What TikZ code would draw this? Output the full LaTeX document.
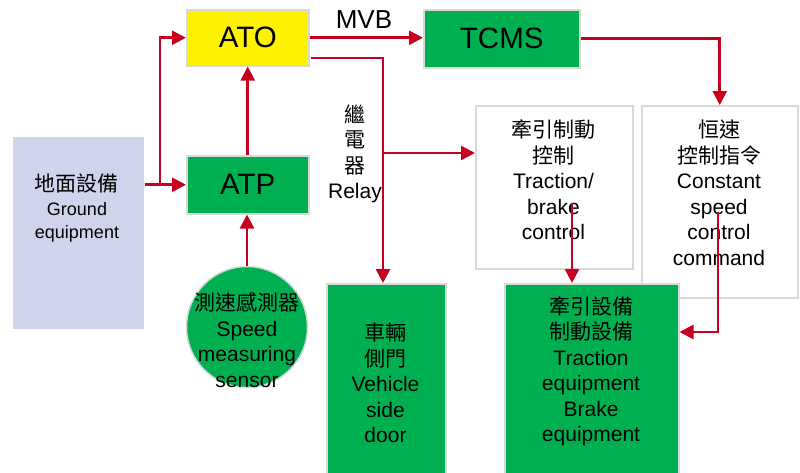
\documentclass[tikz,border=0pt]{standalone}
\usepackage{fontspec}
\setmainfont{Liberation Sans}
\newfontfamily\cjk{Noto Sans CJK TC}
\usetikzlibrary{arrows.meta}

\definecolor{railgreen}{RGB}{0,176,80}
\definecolor{railred}{RGB}{200,0,32}
\definecolor{edgegray}{RGB}{217,217,217}
\definecolor{groundblue}{RGB}{208,211,236}

\begin{document}
\begin{tikzpicture}[x=1pt,y=-1pt,
    blk/.style={draw=edgegray, line width=1.5pt, inner sep=0pt, anchor=north west},
    lbl/.style={align=center, inner sep=0pt, font=\fontsize{21}{25.5}\selectfont},
    big/.style={font=\fontsize{29.5}{30}\selectfont},
    link/.style={draw=railred, line width=2.6pt, -{Triangle[length=14pt,width=14pt]}}]
        \useasboundingbox (0,0) rectangle (800,472);

        % Ground equipment
        \node[blk, draw=none, fill=groundblue, minimum width=131pt, minimum height=192pt] (ground) at (12,136) {};
        \node[lbl, font=\fontsize{18}{23.5}\selectfont] (ground-txt) at (77,208)
            {{\cjk\fontsize{21}{23.5}\selectfont 地面設備}\\Ground\\equipment};

        % Train control units
        \node[blk, fill=yellow, big, minimum width=122pt, minimum height=56pt] (ato) at (186,9) {ATO};
        \node[blk, fill=railgreen, big, minimum width=156pt, minimum height=58pt] (tcms) at (423,9) {TCMS};
        \node[blk, fill=railgreen, big, minimum width=122pt, minimum height=58pt] (atp) at (186,155) {ATP};

        % Speed sensor
        \node[circle, draw=edgegray, line width=1.5pt, fill=railgreen, minimum size=121pt, inner sep=0pt] (sensor) at (247,327) {};
        \node[lbl] (sensor-txt) at (247,340) {{\cjk 測速感測器}\\Speed\\measuring\\sensor};

        % Side door
        \node[blk, fill=railgreen, minimum width=119pt, minimum height=200pt] (door) at (326,283) {};
        \node[lbl] (door-txt) at (385.5,383) {{\cjk 車輛}\\{\cjk 側門}\\Vehicle\\side\\door};

        % Traction/brake control
        \node[blk, fill=white, minimum width=157pt, minimum height=163pt] (tbc) at (475,105) {};
        \node[lbl] (tbc-txt) at (553.5,180) {{\cjk 牽引制動}\\{\cjk 控制}\\Traction/\\brake\\control};

        % Constant speed command
        \node[blk, fill=white, minimum width=156pt, minimum height=192pt] (csc) at (641,105) {};
        \node[lbl] (csc-txt) at (719,193) {{\cjk 恒速}\\{\cjk 控制指令}\\Constant\\speed\\control\\command};

        % Traction and brake equipment
        \node[blk, fill=railgreen, minimum width=174pt, minimum height=200pt] (te) at (504,283) {};
        \node[lbl] (te-txt) at (591,371.5) {{\cjk 牽引設備}\\{\cjk 制動設備}\\Traction\\equipment\\Brake\\equipment};

        % Relay label
        \node[lbl] (relay-txt) at (355,154) {{\cjk 繼}\\{\cjk 電}\\{\cjk 器}\\Relay};

        % Bus label
        \node[font=\fontsize{26}{26}\selectfont, inner sep=0pt] (mvb) at (364,20) {MVB};

        % Helper points
        \coordinate (split) at (160,185);
        \coordinate (ato-tap) at (311,58);
        \coordinate (relay) at (383,153);
        \coordinate (tbc-out) at (572,203);
        \coordinate (csc-out) at (718,212);
        \path (te.north east) ++(0,49) coordinate (te-in);

        % Ground to ATP and ATO
        \draw[link] (ground.east |- atp.west) -- (atp.west);
        \draw[link] (split) |- (ato.west);

        % Sensor to ATP to ATO
        \draw[link] (sensor.north) -- (sensor.north |- atp.south);
        \draw[link] (atp.north) -- (atp.north |- ato.south);

        % ATO to TCMS over MVB
        \draw[link] (ato.east) -- (ato.east -| tcms.west);
        \draw[link] (tcms.east) -| (csc.north);

        % Relay output
        \draw[railred, line width=1.3pt] (ato-tap) -| (relay);
        \draw[link] (relay) -- (relay |- door.north);
        \draw[link] (relay) -- (relay -| tbc.west);

        % Commands to traction equipment
        \draw[link] (tbc-out) -- (tbc-out |- te.north);
        \draw[link] (csc-out) |- (te-in);
\end{tikzpicture}
\end{document}
